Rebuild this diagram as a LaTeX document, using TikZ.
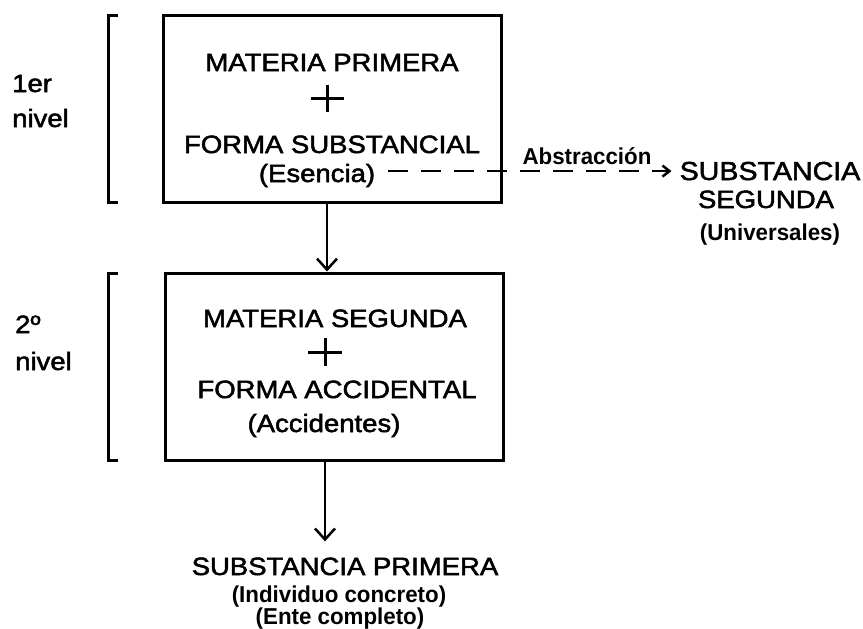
\documentclass[tikz,border=0pt]{standalone}
\usepackage{fontspec}
\setmainfont{Liberation Sans}
\newfontfamily\mainf{Liberation Sans}[FakeStretch=1.1, FakeBold=2]
\newfontfamily\smallf{Liberation Sans Bold}[FakeStretch=0.97]
\usetikzlibrary{arrows.meta}
\begin{document}
\begin{tikzpicture}[x=1pt,y=-1pt,
  big/.style={font=\fontsize{25}{30}\selectfont\mainf, inner sep=0, anchor=base},
  bigleft/.style={font=\fontsize{25}{30}\selectfont\mainf, inner sep=0, anchor=base west},
  small/.style={font=\fontsize{23}{26}\selectfont\smallf, inner sep=0, anchor=base},
  box/.style={draw, line width=3pt, inner sep=0, minimum width=338pt, minimum height=187pt},
  bracket/.style={line width=3pt},
  plus/.style={line width=3pt},
  arr/.style={line width=2.5pt, -{Straight Barb[length=11pt,width=20pt]}},
  abstr/.style={line width=2.5pt, dash pattern=on 20pt off 13pt, -{Straight Barb[length=7pt,width=11pt]}}]
\useasboundingbox (0,0) rectangle (863,629);
\fill[white] (0,0) rectangle (863,629);

% boxes
\node[box] (b1) at (332,108.5) {};
\node[box] (b2) at (334,366.5) {};

% brackets
\draw[bracket] (118,15) -- (108,15) -- (108,202) -- (118,202);
\draw[bracket] (118,273) -- (108,273) -- (108,460) -- (118,460);

% level labels
\node[bigleft] (l1a) at (12,92) {1er};
\node[bigleft] (l1b) at (12,127) {nivel};
\node[bigleft] (l2a) at (15,333) {2º};
\node[bigleft] (l2b) at (15,370) {nivel};

% box 1 text
\node[big] (mp) at (332,71) {MATERIA PRIMERA};
\draw[plus] (310.5,98) -- (343.5,98) (327,84.5) -- (327,111.5);
\node[big] (fs) at (332,153) {FORMA SUBSTANCIAL};
\node[big] (esencia) at (317,182) {(Esencia)};

% box 2 text
\node[big] (ms) at (335,327) {MATERIA SEGUNDA};
\draw[plus] (308,352) -- (342,352) (325,338) -- (325,366);
\node[big] (fa) at (337,398) {FORMA ACCIDENTAL};
\node[big] (acc) at (324,432) {(Accidentes)};

% substancia segunda
\node[big, font=\fontsize{26}{30}\selectfont\mainf] (sub1) at (770,180) {SUBSTANCIA};
\node[big] (sub2) at (766,208) {SEGUNDA};
\node[small] (univ) at (770,240) {(Universales)};
\node[small] (abs) at (587,164) {Abstracción};

% substancia primera
\node[big] (sp) at (345,575) {SUBSTANCIA PRIMERA};
\node[small] (ind) at (339,602) {(Individuo concreto)};
\node[small] (ente) at (340,624) {(Ente completo)};

% connectors
\coordinate (c1) at (327,0);
\coordinate (c2) at (325,0);
\draw[arr] (b1.south -| c1) -- (b2.north -| c1);
\draw[arr, shorten >=16pt] (b2.south -| c2) -- (sp.north -| c2);
\draw[abstr, shorten <=13pt, shorten >=8pt] (esencia.east |- sub1.west) -- (sub1.west);
\end{tikzpicture}
\end{document}
